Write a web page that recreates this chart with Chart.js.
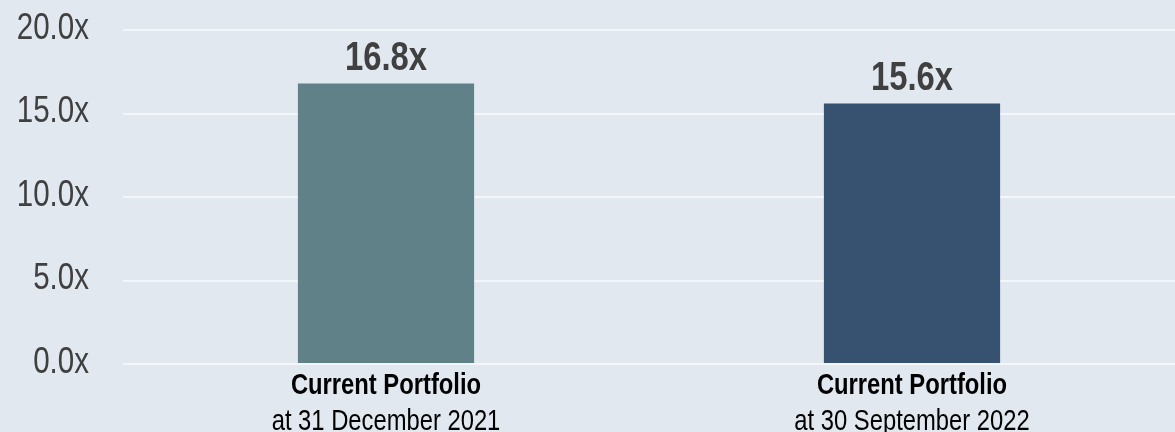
<!DOCTYPE html>
<html>
<head>
<meta charset="utf-8">
<script src="https://cdn.jsdelivr.net/npm/chart.js@4/dist/chart.umd.min.js"></script>
<style>
  html, body { margin: 0; padding: 0; background: #E1E8F0; }
  #wrap { width: 1175px; height: 432px; position: relative; }
</style>
</head>
<body>
<div id="wrap"><canvas id="peChart"></canvas></div>
<script>
  // Chart values
  var titles = ['Current Portfolio', 'Current Portfolio'];
  var subtitles = ['at 31 December 2021', 'at 30 September 2022'];
  var multiples = [16.8, 15.6];
  var barColors = ['#5F8187', '#375170'];
  var yTicks = [0, 5, 10, 15, 20];

  // no Arial Narrow here, so squeeze Liberation Sans horizontally
  var FONT = "'Liberation Sans', Arial, sans-serif";
  var SQUEEZE = 0.82;

  function narrowText(ctx, text, x, y, font, color, align, baseline) {
    ctx.save();
    ctx.font = font;
    ctx.fillStyle = color;
    ctx.textAlign = align;
    ctx.textBaseline = baseline;
    ctx.translate(x, y);
    ctx.scale(SQUEEZE, 1);
    ctx.fillText(text, 0, 0);
    ctx.restore();
  }

  // y tick labels
  var yLabels = {
    id: 'yLabels',
    afterDraw: function (chart) {
      var y = chart.scales.y;
      yTicks.forEach(function (v) {
        narrowText(chart.ctx, v.toFixed(1) + 'x', 89, y.getPixelForValue(v) - 1,
          '36px ' + FONT, '#404040', 'right', 'middle');
      });
    }
  };

  // value labels above each bar
  var valueLabels = {
    id: 'valueLabels',
    afterDatasetsDraw: function (chart) {
      var meta = chart.getDatasetMeta(0);
      meta.data.forEach(function (bar, i) {
        narrowText(chart.ctx, multiples[i].toFixed(1) + 'x', bar.x, bar.y - 13,
          'bold 40px ' + FONT, '#404040', 'center', 'alphabetic');
      });
    }
  };

  // two-line category labels, first line bold
  var categoryLabels = {
    id: 'categoryLabels',
    afterDraw: function (chart) {
      var x = chart.scales.x;
      var base = chart.chartArea.bottom;
      titles.forEach(function (t, i) {
        var cx = x.getPixelForValue(i);
        narrowText(chart.ctx, t, cx, base + 30, 'bold 29px ' + FONT, '#000000', 'center', 'alphabetic');
        narrowText(chart.ctx, subtitles[i], cx, base + 66, '29px ' + FONT, '#000000', 'center', 'alphabetic');
      });
    }
  };

  new Chart(document.getElementById('peChart').getContext('2d'), {
    type: 'bar',
    data: {
      labels: titles.map(function (t, i) { return t + ' ' + subtitles[i]; }),
      datasets: [{
        data: multiples,
        backgroundColor: barColors,
        borderWidth: 0,
        barPercentage: 1,
        categoryPercentage: 0.335
      }]
    },
    options: {
      responsive: true,
      maintainAspectRatio: false,
      animation: false,
      layout: { padding: { top: 30, bottom: 68, left: 0, right: 0 } },
      scales: {
        x: {
          display: false
        },
        y: {
          min: 0,
          max: 20,
          afterBuildTicks: function (scale) {
            scale.ticks = yTicks.map(function (v) { return { value: v }; });
          },
          afterFit: function (scale) { scale.width = 123; },
          grid: { color: '#F4F6F9', lineWidth: 2, drawTicks: false },
          border: { display: false },
          ticks: { display: false }
        }
      },
      plugins: {
        legend: { display: false },
        tooltip: { enabled: false }
      }
    },
    plugins: [valueLabels, categoryLabels, yLabels]
  });
</script>
</body>
</html>
